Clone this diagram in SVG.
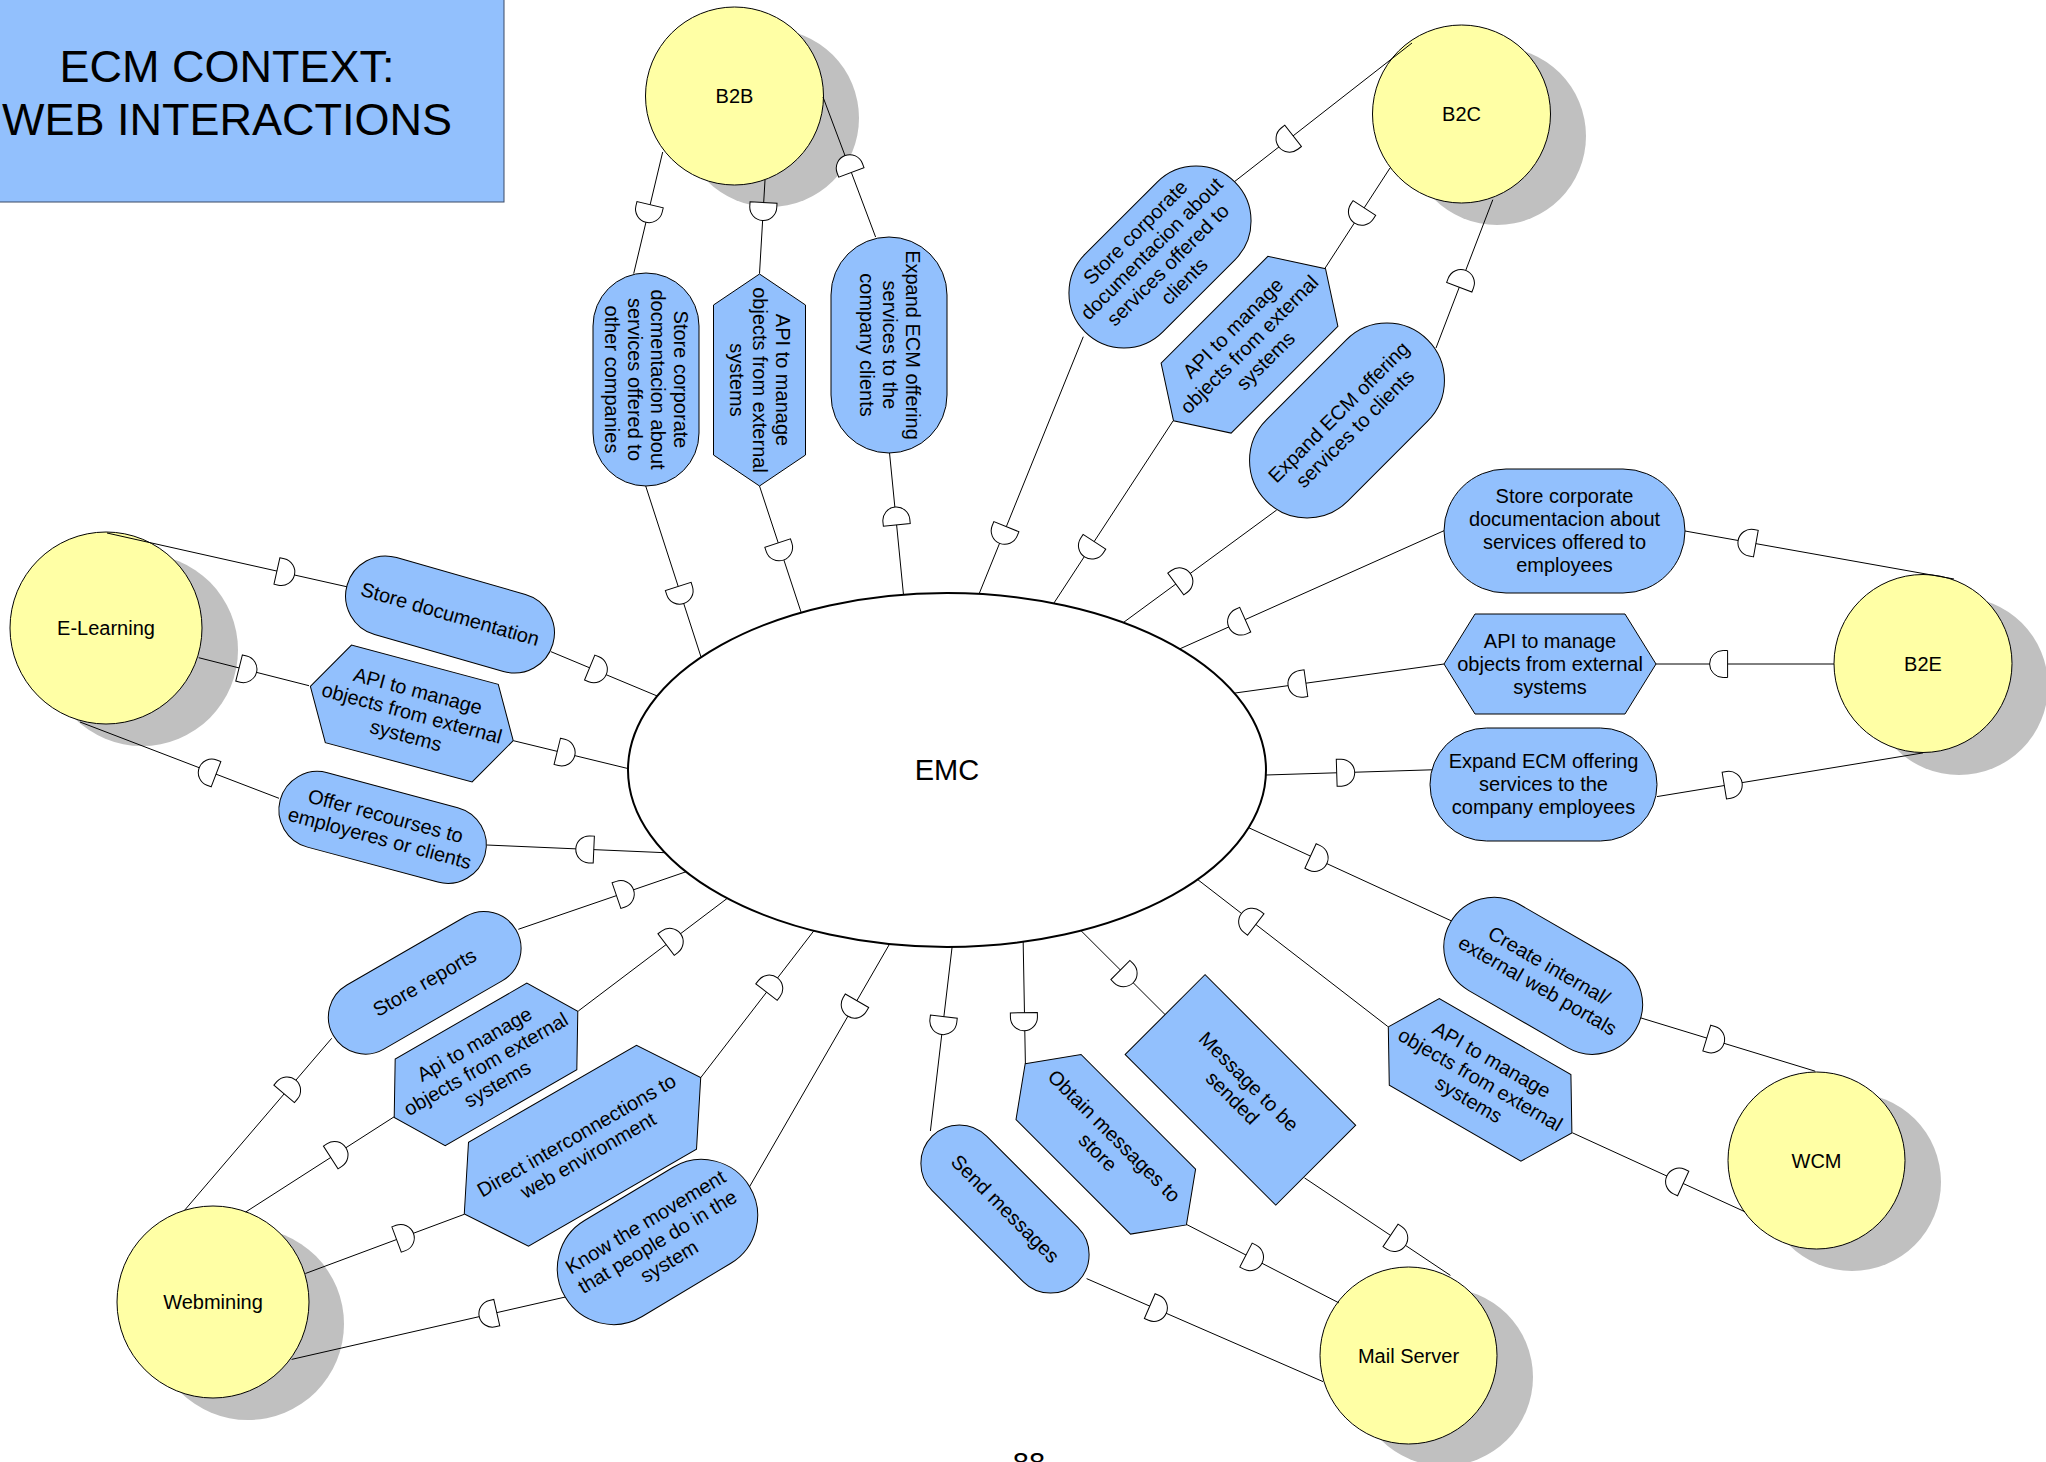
<svg xmlns="http://www.w3.org/2000/svg" xmlns:xlink="http://www.w3.org/1999/xlink" width="2046" height="1462" viewBox="0 0 2046 1462">
  <defs>
    <style>
      text { font-family: "Liberation Sans", Arial, sans-serif; fill: #000; }
      .act rect, .act polygon { fill: #92c0fd; stroke: #000; stroke-width: 1; }
      .act text { font-size: 20px; text-anchor: middle; }
      .actor circle { fill: #ffffa5; stroke: #000; stroke-width: 1; }
      .actor text { font-size: 20px; text-anchor: middle; }
      .shadow { fill: #c0c0c0; }
      .wire line { stroke: #000; stroke-width: 1; fill: none; }
      .wire use { fill: #fff; stroke: #000; stroke-width: 1; }
    </style>
    <!-- half-round flow marker, bulge points along +x -->
    <path id="flow" d="M -9 -13.5 H -4.5 A 13.5 13.5 0 0 1 -4.5 13.5 H -9 Z"/>
  </defs>

  <rect width="2046" height="1462" fill="#fff"/>

  <!-- title -->
  <g id="title">
    <rect x="-2" y="-2" width="506" height="204" fill="#92c0fd" stroke="#3a4a66" stroke-width="1"/>
    <text x="227" y="82" font-size="45" text-anchor="middle">ECM CONTEXT:</text>
    <text x="227" y="135" font-size="45" text-anchor="middle">WEB INTERACTIONS</text>
  </g>

  <!-- drop shadows of the actors -->
  <g id="shadows">
    <circle class="shadow" cx="770" cy="118" r="89"/>
    <circle class="shadow" cx="1497" cy="136" r="89"/>
    <circle class="shadow" cx="1959" cy="686" r="89"/>
    <circle class="shadow" cx="142" cy="650" r="96"/>
    <circle class="shadow" cx="248" cy="1324" r="96"/>
    <circle class="shadow" cx="1852" cy="1182" r="89"/>
    <circle class="shadow" cx="1444" cy="1377" r="89"/>
  </g>

  <!-- actors -->
  <g id="b2b" class="actor"><circle cx="734.5" cy="96" r="89"/><text x="734.5" y="103">B2B</text></g>
  <g id="b2c" class="actor"><circle cx="1461.5" cy="114" r="89"/><text x="1461.5" y="121">B2C</text></g>
  <g id="b2e" class="actor"><circle cx="1923" cy="663.5" r="89"/><text x="1923" y="670.5">B2E</text></g>
  <g id="elearning" class="actor"><circle cx="106" cy="628" r="96"/><text x="106" y="635">E-Learning</text></g>
  <g id="webmining" class="actor"><circle cx="213" cy="1302" r="96"/><text x="213" y="1309">Webmining</text></g>
  <g id="wcm" class="actor"><circle cx="1816.5" cy="1160.5" r="88.5"/><text x="1816.5" y="1167.5">WCM</text></g>
  <g id="mailserver" class="actor"><circle cx="1408.5" cy="1355.5" r="88.5"/><text x="1408.5" y="1362.5">Mail Server</text></g>

  <!-- connectors with flow markers -->
  <g id="connectors" class="wire">
    <line x1="662.7" y1="152" x2="633.7" y2="273.6"/><use xlink:href="#flow" transform="translate(648 213.5) rotate(103.4)"/>
    <line x1="645.7" y1="486" x2="702" y2="660"/><use xlink:href="#flow" transform="translate(681 595) rotate(72)"/>
    <line x1="765" y1="180" x2="759.5" y2="273.6"/><use xlink:href="#flow" transform="translate(763 211.5) rotate(93.4)"/>
    <line x1="759.5" y1="486" x2="802" y2="615"/><use xlink:href="#flow" transform="translate(780.5 551.6) rotate(71.6)"/>
    <line x1="875.6" y1="237" x2="823" y2="97"/><use xlink:href="#flow" transform="translate(848.2 164) rotate(-110.6)"/>
    <line x1="904" y1="600" x2="889.5" y2="452.7"/><use xlink:href="#flow" transform="translate(895.9 516) rotate(-95.8)"/>

    <line x1="1412" y1="43" x2="1234" y2="182"/><use xlink:href="#flow" transform="translate(1286 141.4) rotate(142)"/>
    <line x1="1083.3" y1="336.7" x2="977" y2="599"/><use xlink:href="#flow" transform="translate(1003 535) rotate(112)"/>
    <line x1="1390" y1="168" x2="1324.5" y2="269"/><use xlink:href="#flow" transform="translate(1359.5 215.5) rotate(123)"/>
    <line x1="1173" y1="421" x2="1052" y2="606"/><use xlink:href="#flow" transform="translate(1089.5 549.3) rotate(123.1)"/>
    <line x1="1436" y1="348" x2="1492.8" y2="199.7"/><use xlink:href="#flow" transform="translate(1462.5 278.8) rotate(-69)"/>
    <line x1="1120" y1="625" x2="1276.7" y2="510"/><use xlink:href="#flow" transform="translate(1183 578.7) rotate(-36.3)"/>

    <line x1="107" y1="533" x2="348" y2="587"/><use xlink:href="#flow" transform="translate(285.7 573) rotate(12.6)"/>
    <line x1="551" y1="651.7" x2="662" y2="698"/><use xlink:href="#flow" transform="translate(598 671) rotate(22.4)"/>
    <line x1="198.7" y1="657.7" x2="309" y2="685.7"/><use xlink:href="#flow" transform="translate(247.8 670.2) rotate(14.2)"/>
    <line x1="513.4" y1="740.7" x2="634" y2="770"/><use xlink:href="#flow" transform="translate(566 753.5) rotate(13.7)"/>
    <line x1="279" y1="798.3" x2="80" y2="722"/><use xlink:href="#flow" transform="translate(207.6 771) rotate(-159)"/>
    <line x1="672" y1="853" x2="486.6" y2="845"/><use xlink:href="#flow" transform="translate(584.8 849.2) rotate(-177.5)"/>

    <line x1="184.8" y1="1210" x2="331.7" y2="1038.3"/><use xlink:href="#flow" transform="translate(290 1087) rotate(-49.5)"/>
    <line x1="518.3" y1="929.3" x2="690" y2="870.4"/><use xlink:href="#flow" transform="translate(625 892.7) rotate(-18.9)"/>
    <line x1="245.7" y1="1212" x2="394.3" y2="1116.7"/><use xlink:href="#flow" transform="translate(338.3 1152.6) rotate(-32.7)"/>
    <line x1="578.3" y1="1011" x2="731" y2="895.5"/><use xlink:href="#flow" transform="translate(673.3 939.1) rotate(-37.1)"/>
    <line x1="305.4" y1="1273.5" x2="464.3" y2="1214.3"/><use xlink:href="#flow" transform="translate(405 1236.4) rotate(-20.4)"/>
    <line x1="700.7" y1="1077.7" x2="816" y2="928"/><use xlink:href="#flow" transform="translate(772 985) rotate(-52.4)"/>
    <line x1="891" y1="941.5" x2="749" y2="1187.6"/><use xlink:href="#flow" transform="translate(852.5 1008.5) rotate(120)"/>
    <line x1="565.4" y1="1297" x2="291.6" y2="1359.4"/><use xlink:href="#flow" transform="translate(488 1314.6) rotate(167.2)"/>

    <line x1="952.5" y1="943.5" x2="930.4" y2="1131"/><use xlink:href="#flow" transform="translate(942.8 1025.6) rotate(96.7)"/>
    <line x1="1086.6" y1="1278.6" x2="1323" y2="1381.6"/><use xlink:href="#flow" transform="translate(1158 1309.7) rotate(23.5)"/>
    <line x1="1023.1" y1="938" x2="1025.4" y2="1063.9"/><use xlink:href="#flow" transform="translate(1024 1021.7) rotate(89)"/>
    <line x1="1187" y1="1224.7" x2="1338.8" y2="1302.8"/><use xlink:href="#flow" transform="translate(1254 1259.2) rotate(27.2)"/>
    <line x1="1078" y1="927.7" x2="1165" y2="1014.5"/><use xlink:href="#flow" transform="translate(1126.8 976.4) rotate(44.9)"/>
    <line x1="1304.5" y1="1177.9" x2="1450.4" y2="1275.4"/><use xlink:href="#flow" transform="translate(1398 1240.4) rotate(33.8)"/>

    <line x1="1245" y1="826" x2="1451" y2="920.7"/><use xlink:href="#flow" transform="translate(1318.7 859.8) rotate(24.7)"/>
    <line x1="1639.8" y1="1017.6" x2="1815.2" y2="1071.2"/><use xlink:href="#flow" transform="translate(1715.4 1040.7) rotate(17)"/>
    <line x1="1387.8" y1="1026.5" x2="1195" y2="877.5"/><use xlink:href="#flow" transform="translate(1248.6 919) rotate(-142.3)"/>
    <line x1="1745" y1="1211.8" x2="1572.4" y2="1132.8"/><use xlink:href="#flow" transform="translate(1675 1179.7) rotate(-155.4)"/>

    <line x1="1954" y1="579" x2="1685" y2="531"/><use xlink:href="#flow" transform="translate(1747 542) rotate(-169.9)"/>
    <line x1="1444" y1="530.7" x2="1175" y2="651"/><use xlink:href="#flow" transform="translate(1237 623.4) rotate(155.9)"/>
    <line x1="1834" y1="664" x2="1656" y2="664"/><use xlink:href="#flow" transform="translate(1718.6 664) rotate(180)"/>
    <line x1="1444" y1="664" x2="1228" y2="694"/><use xlink:href="#flow" transform="translate(1297 684.4) rotate(172.1)"/>
    <line x1="1260" y1="775.2" x2="1432" y2="769.8"/><use xlink:href="#flow" transform="translate(1345.7 772.5) rotate(-1.8)"/>
    <line x1="1657" y1="796.6" x2="1923" y2="752.9"/><use xlink:href="#flow" transform="translate(1733.2 784.1) rotate(-9.3)"/>
  </g>

  <!-- central system -->
  <g id="emc">
    <ellipse cx="947" cy="770" rx="319" ry="177" fill="#fff" stroke="#000" stroke-width="2"/>
    <text x="947" y="780" font-size="29" text-anchor="middle">EMC</text>
  </g>

  <!-- B2B activities -->
  <g id="b2b-store" class="act" transform="translate(646 379.5) rotate(90)">
    <rect x="-106.5" y="-53" width="213" height="106" rx="53"/>
    <text><tspan x="0" y="-28">Store corporate</tspan><tspan x="0" y="-5">docmentacion about</tspan><tspan x="0" y="18">services offered to</tspan><tspan x="0" y="41">other companies</tspan></text>
  </g>
  <g id="b2b-api" class="act" transform="translate(759.5 380) rotate(90)">
    <polygon points="-106,0 -75,-46 75,-46 106,0 75,46 -75,46"/>
    <text><tspan x="0" y="-16.5">API to manage</tspan><tspan x="0" y="6.5">objects from external</tspan><tspan x="0" y="29.5">systems</tspan></text>
  </g>
  <g id="b2b-expand" class="act" transform="translate(889 345) rotate(90)">
    <rect x="-108" y="-58" width="216" height="116" rx="58"/>
    <text><tspan x="0" y="-16.5">Expand ECM offering</tspan><tspan x="0" y="6.5">services to the</tspan><tspan x="0" y="29.5">company clients</tspan></text>
  </g>

  <!-- B2C activities -->
  <g id="b2c-store" class="act" transform="translate(1160 257) rotate(-45)">
    <rect x="-106" y="-55" width="212" height="110" rx="55"/>
    <text><tspan x="0" y="-28">Store corporate</tspan><tspan x="0" y="-5">documentacion about</tspan><tspan x="0" y="18">services offered to</tspan><tspan x="0" y="41">clients</tspan></text>
  </g>
  <g id="b2c-api" class="act" transform="translate(1249.5 344.7) rotate(-45)">
    <polygon points="-107.5,0 -75.5,-49.5 75.5,-49.5 107.5,0 75.5,49.5 -75.5,49.5"/>
    <text><tspan x="0" y="-16.5">API to manage</tspan><tspan x="0" y="6.5">objects from external</tspan><tspan x="0" y="29.5">systems</tspan></text>
  </g>
  <g id="b2c-expand" class="act" transform="translate(1347 420.5) rotate(-45)">
    <rect x="-114" y="-57.5" width="228" height="115" rx="57.5"/>
    <text><tspan x="0" y="-5">Expand ECM offering</tspan><tspan x="0" y="18">services to clients</tspan></text>
  </g>

  <!-- B2E activities -->
  <g id="b2e-store" class="act" transform="translate(1564.5 531)">
    <rect x="-120.5" y="-62" width="241" height="124" rx="62"/>
    <text><tspan x="0" y="-28">Store corporate</tspan><tspan x="0" y="-5">documentacion about</tspan><tspan x="0" y="18">services offered to</tspan><tspan x="0" y="41">employees</tspan></text>
  </g>
  <g id="b2e-api" class="act" transform="translate(1550 664)">
    <polygon points="-106,0 -75,-50 75,-50 106,0 75,50 -75,50"/>
    <text><tspan x="0" y="-16.5">API to manage</tspan><tspan x="0" y="6.5">objects from external</tspan><tspan x="0" y="29.5">systems</tspan></text>
  </g>
  <g id="b2e-expand" class="act" transform="translate(1543.5 784.5)">
    <rect x="-113.5" y="-56.5" width="227" height="113" rx="56.5"/>
    <text><tspan x="0" y="-16.5">Expand ECM offering</tspan><tspan x="0" y="6.5">services to the</tspan><tspan x="0" y="29.5">company employees</tspan></text>
  </g>

  <!-- E-Learning activities -->
  <g id="el-store" class="act" transform="translate(450 614.5) rotate(16)">
    <rect x="-107" y="-40" width="214" height="80" rx="40"/>
    <text><tspan x="0" y="6.5">Store documentation</tspan></text>
  </g>
  <g id="el-api" class="act" transform="translate(411.8 713.5) rotate(15)">
    <polygon points="-105,0 -76,-50.5 76,-50.5 105,0 76,50.5 -76,50.5"/>
    <text><tspan x="0" y="-16.5">API to manage</tspan><tspan x="0" y="6.5">objects from external</tspan><tspan x="0" y="29.5">systems</tspan></text>
  </g>
  <g id="el-offer" class="act" transform="translate(382.6 827.4) rotate(15)">
    <rect x="-106" y="-38.5" width="212" height="77" rx="38.5"/>
    <text><tspan x="0" y="-5">Offer recourses to</tspan><tspan x="0" y="18">employeres or clients</tspan></text>
  </g>

  <!-- Webmining activities -->
  <g id="wm-reports" class="act" transform="translate(424.7 982.8) rotate(-30)">
    <rect x="-105.5" y="-37" width="211" height="74" rx="37"/>
    <text><tspan x="0" y="6.5">Store reports</tspan></text>
  </g>
  <g id="wm-api" class="act" transform="translate(486 1064.4) rotate(-30)">
    <polygon points="-106,0 -76,-50 76,-50 106,0 76,50 -76,50"/>
    <text><tspan x="0" y="-16.5">Api to manage</tspan><tspan x="0" y="6.5">objects from external</tspan><tspan x="0" y="29.5">systems</tspan></text>
  </g>
  <g id="wm-direct" class="act" transform="translate(582.5 1145.7) rotate(-30)">
    <polygon points="-136.5,0 -97,-60 97,-60 136.5,0 97,60 -97,60"/>
    <text><tspan x="0" y="-5">Direct interconnections to</tspan><tspan x="0" y="18">web environment</tspan></text>
  </g>
  <g id="wm-know" class="act" transform="translate(657.5 1242) rotate(-31)">
    <rect x="-107.5" y="-56" width="215" height="112" rx="56"/>
    <text><tspan x="0" y="-16.5">Know the movement</tspan><tspan x="0" y="6.5">that people do in the</tspan><tspan x="0" y="29.5">system</tspan></text>
  </g>

  <!-- Mail Server activities -->
  <g id="mail-send" class="act" transform="translate(1005 1209) rotate(45)">
    <rect x="-103" y="-38.5" width="206" height="77" rx="38.5"/>
    <text><tspan x="0" y="6.5">Send messages</tspan></text>
  </g>
  <g id="mail-obtain" class="act" transform="translate(1105.8 1144.3) rotate(45)">
    <polygon points="-114,0 -81,-46 81,-46 114,0 81,46 -81,46"/>
    <text><tspan x="0" y="-5">Obtain messages to</tspan><tspan x="0" y="18">store</tspan></text>
  </g>
  <g id="mail-message" class="act" transform="translate(1240.4 1089.9) rotate(45)">
    <rect x="-106.5" y="-56.5" width="213" height="113"/>
    <text><tspan x="0" y="-5">Message to be</tspan><tspan x="0" y="18">sended</tspan></text>
  </g>

  <!-- WCM activities -->
  <g id="wcm-create" class="act" transform="translate(1543.2 975.8) rotate(30)">
    <rect x="-107" y="-50" width="214" height="100" rx="50"/>
    <text><tspan x="0" y="-5">Create internal/</tspan><tspan x="0" y="18">external web portals</tspan></text>
  </g>
  <g id="wcm-api" class="act" transform="translate(1480.1 1079.9) rotate(30)">
    <polygon points="-106,0 -76,-50 76,-50 106,0 76,50 -76,50"/>
    <text><tspan x="0" y="-16.5">API to manage</tspan><tspan x="0" y="6.5">objects from external</tspan><tspan x="0" y="29.5">systems</tspan></text>
  </g>

  <!-- page number, running off the bottom edge -->
  <text x="1029" y="1473" font-size="29" text-anchor="middle">88</text>
</svg>
